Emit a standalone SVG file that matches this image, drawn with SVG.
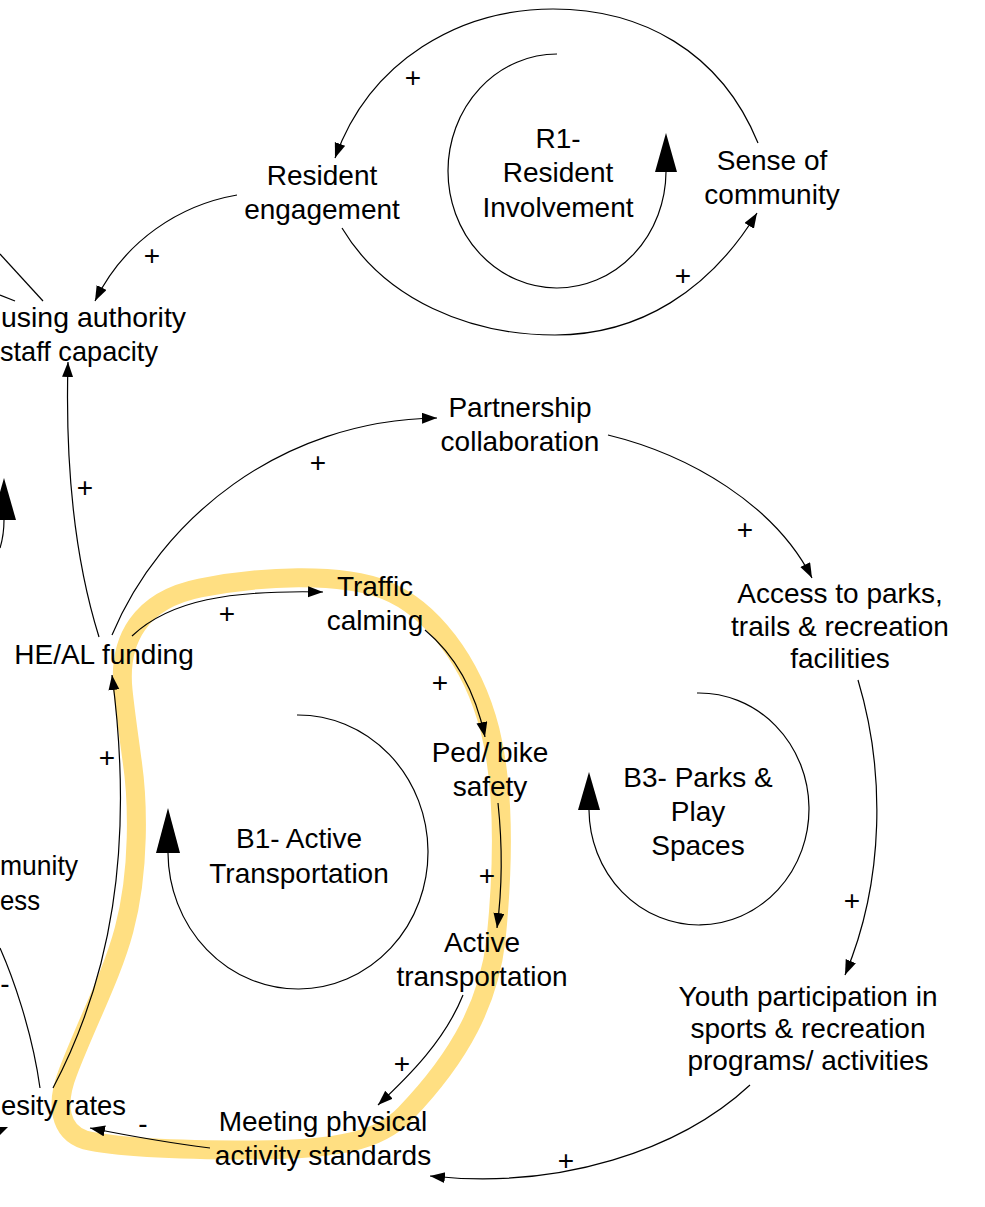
<svg xmlns="http://www.w3.org/2000/svg" width="985" height="1207" viewBox="0 0 985 1207">
  <defs>
    <marker id="arrow" markerUnits="userSpaceOnUse" markerWidth="16" markerHeight="12" refX="15" refY="5.5" orient="auto">
      <path d="M0,0 L15,5.5 L0,11 Z" fill="#000"/>
    </marker>
    <style>
      text { font-family: "Liberation Sans", Arial, sans-serif; font-size: 28px; fill: #000; }
      .node text { text-anchor: middle; }
      .edge { fill: none; stroke: #000; stroke-width: 1.2; }
      .link { marker-end: url(#arrow); }
      .loop { fill: none; stroke: #000; stroke-width: 1.2; }
      .head { fill: #000; stroke: none; }
      .pol { text-anchor: middle; font-size: 28px; }
      .highlight { fill: none; stroke: #ffdf82; stroke-width: 19; stroke-linejoin: round; }
    </style>
  </defs>

  <rect width="985" height="1207" fill="#fff"/>

  <!-- highlighted feedback path (B1 loop) -->
  <path class="highlight" d="M123,690 C118,640 140,600 200,588 C260,576 340,572 385,590 C430,608 472,660 490,730 C505,790 503,870 496,940 C489,1000 462,1055 405,1114 C380,1140 340,1150 250,1150 C180,1150 120,1148 85,1140 C60,1132 55,1105 68,1072 C88,1020 112,975 124,930 C140,870 138,800 132,760 C128,730 125,710 123,690 Z"/>

  <!-- connectors -->
  <g id="connectors">
    <path class="edge link" d="M758,143 C720,50 640,9 553,9 C460,9 370,60 335,158"/>
    <path class="edge link" d="M342,228 C385,300 470,335 555,335 C640,335 710,290 757,213"/>
    <path class="edge link" d="M237,195 C180,205 125,240 95,301"/>
    <path class="edge" d="M0,254 L43,301"/>
    <path class="edge" d="M0,295 L15,301"/>
    <path class="edge link" d="M99,637 C75,560 65,470 68,362"/>
    <path class="edge link" d="M112,635 C160,520 280,420 437,418"/>
    <path class="edge link" d="M608,435 C690,455 775,505 812,578"/>
    <path class="edge link" d="M858,680 C885,770 885,880 845,975"/>
    <path class="edge link" d="M750,1085 C680,1150 560,1190 430,1176"/>
    <path class="edge link" d="M132,636 C170,600 230,590 323,592"/>
    <path class="edge link" d="M425,630 C455,655 475,690 485,737"/>
    <path class="edge link" d="M498,803 C503,850 502,890 497,928"/>
    <path class="edge link" d="M463,995 C445,1040 410,1075 378,1105"/>
    <path class="edge link" d="M210,1148 C170,1143 125,1135 90,1128"/>
    <path class="edge link" d="M53,1088 C110,980 135,850 112,675"/>
    <path class="edge" d="M0,948 C12,975 32,1030 40,1088"/>
    <path class="head" d="M0,1127 L8,1127 L0,1135 Z"/>

    <!-- polarity signs -->
    <text class="pol" x="413" y="87">+</text>
    <text class="pol" x="683" y="285">+</text>
    <text class="pol" x="152" y="265">+</text>
    <text class="pol" x="85" y="497">+</text>
    <text class="pol" x="318" y="472">+</text>
    <text class="pol" x="745" y="539">+</text>
    <text class="pol" x="227" y="623">+</text>
    <text class="pol" x="440" y="692">+</text>
    <text class="pol" x="487" y="885">+</text>
    <text class="pol" x="402" y="1073">+</text>
    <text class="pol" x="107" y="767">+</text>
    <text class="pol" x="852" y="910">+</text>
    <text class="pol" x="566" y="1170">+</text>
    <text class="pol" x="143" y="1133">-</text>
    <text class="pol" x="5" y="993">-</text>
  </g>

  <!-- loop markers -->
  <g id="loop-r1">
    <path class="loop" d="M557,54 A109,117 0 1 0 666,172"/>
    <path class="head" d="M655,172 L677,172 L666,133 Z"/>
    <text x="558" y="148" text-anchor="middle">R1-</text>
    <text x="558" y="182" text-anchor="middle">Resident</text>
    <text x="558" y="217" text-anchor="middle">Involvement</text>
  </g>
  <g id="loop-b1">
    <path class="loop" d="M297,715 A130,137 0 1 1 168,853"/>
    <path class="head" d="M156,853 L180,853 L168,808 Z"/>
    <text x="299" y="848" text-anchor="middle">B1- Active</text>
    <text x="299" y="883" text-anchor="middle">Transportation</text>
  </g>
  <g id="loop-b3">
    <path class="loop" d="M697,693 A110,116 0 1 1 589,810"/>
    <path class="head" d="M578,810 L600,810 L589,772 Z"/>
    <text x="698" y="787" text-anchor="middle">B3- Parks &amp;</text>
    <text x="698" y="821" text-anchor="middle">Play</text>
    <text x="698" y="855" text-anchor="middle">Spaces</text>
  </g>
  <g id="loop-left">
    <path class="loop" d="M4,520 Q4,535 0,548"/>
    <path class="head" d="M-8,520 L16,520 L4,478 Z"/>
  </g>

  <!-- variables -->
  <g id="resident-engagement" class="node">
    <text x="322" y="185">Resident</text>
    <text x="322" y="219">engagement</text>
  </g>
  <g id="sense-of-community" class="node">
    <text x="772" y="170">Sense of</text>
    <text x="772" y="204">community</text>
  </g>
  <g id="housing-authority">
    <text x="1" y="327" textLength="185" lengthAdjust="spacingAndGlyphs">using authority</text>
    <text x="0" y="361" textLength="158" lengthAdjust="spacingAndGlyphs">staff capacity</text>
  </g>
  <g id="partnership" class="node">
    <text x="520" y="417">Partnership</text>
    <text x="520" y="451">collaboration</text>
  </g>
  <g id="traffic-calming" class="node">
    <text x="375" y="596">Traffic</text>
    <text x="375" y="630">calming</text>
  </g>
  <g id="heal-funding" class="node">
    <text x="104" y="664">HE/AL funding</text>
  </g>
  <g id="access-parks" class="node">
    <text x="840" y="603">Access to parks,</text>
    <text x="840" y="636">trails &amp; recreation</text>
    <text x="840" y="668">facilities</text>
  </g>
  <g id="ped-bike" class="node">
    <text x="490" y="762">Ped/ bike</text>
    <text x="490" y="796">safety</text>
  </g>
  <g id="active-transportation" class="node">
    <text x="482" y="952">Active</text>
    <text x="482" y="986">transportation</text>
  </g>
  <g id="youth-participation" class="node">
    <text x="808" y="1006">Youth participation in</text>
    <text x="808" y="1038">sports &amp; recreation</text>
    <text x="808" y="1070">programs/ activities</text>
  </g>
  <g id="physical-activity" class="node">
    <text x="323" y="1131">Meeting physical</text>
    <text x="323" y="1165">activity standards</text>
  </g>
  <g id="obesity-rates">
    <text x="1" y="1115" textLength="125" lengthAdjust="spacingAndGlyphs">esity rates</text>
  </g>
  <g id="community-readiness">
    <text x="0" y="875" textLength="78" lengthAdjust="spacingAndGlyphs">munity</text>
    <text x="0" y="910" textLength="40" lengthAdjust="spacingAndGlyphs">ess</text>
  </g>
</svg>
